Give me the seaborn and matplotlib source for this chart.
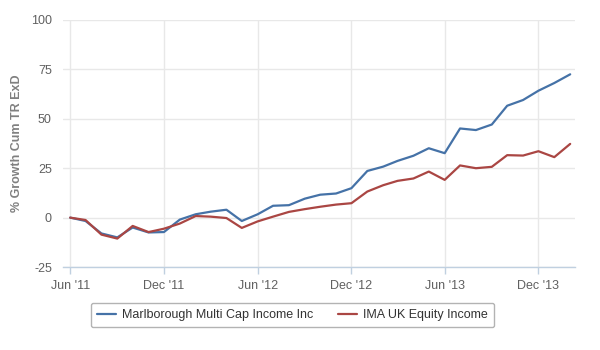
import matplotlib
matplotlib.use("Agg")
import matplotlib.pyplot as plt
import matplotlib.dates as mdates
from matplotlib.ticker import FixedLocator
import seaborn as sns
import pandas as pd

months = pd.date_range("2011-06-01", "2014-02-01", freq="MS")
fund_name = "Marlborough Multi Cap Income Inc"
sector_name = "IMA UK Equity Income"
fund = [0, -1.7, -8, -10, -5, -7.5, -7.3, -1, 1.7, 3, 4, -1.7, 1.7, 6, 6.3, 9.6,
        11.6, 12.2, 14.9, 23.6, 25.8, 28.7, 31.3, 35.1, 32.6, 45.1, 44.3, 47.1,
        56.6, 59.5, 64.2, 68.1, 72.5]
sector = [0, -1.2, -8.6, -10.6, -4.2, -7.3, -5.6, -3, 0.8, 0.5, -0.2, -5.2, -1.9, 0.5,
          2.9, 4.3, 5.5, 6.6, 7.3, 13.2, 16.4, 18.6, 19.8, 23.3, 19.1, 26.4, 25, 25.7,
          31.6, 31.4, 33.6, 30.6, 37.3]
yticks = [-25, 0, 25, 50, 75, 100]
xtick_dates = ["2011-06-01", "2011-12-01", "2012-06-01", "2012-12-01", "2013-06-01", "2013-12-01"]

df = pd.DataFrame({
    "date": list(months) * 2,
    "value": fund + sector,
    "series": [fund_name] * len(months) + [sector_name] * len(months),
})

sns.set_theme(style="white")
plt.rcParams["font.family"] = ["Liberation Sans", "DejaVu Sans"]
plt.rcParams["axes.unicode_minus"] = False

fig = plt.figure(figsize=(6, 3.5), dpi=100)
ax = fig.add_axes([0.105, 0.237, 0.853, 0.706])

sns.lineplot(data=df, x="date", y="value", hue="series",
             palette={fund_name: "#4572A7", sector_name: "#AA4643"},
             linewidth=1.6, ax=ax, legend=True)

ax.set_ylim(-25, 100)
ax.set_xlim(mdates.date2num(pd.Timestamp("2011-06-01")) - 14,
            mdates.date2num(pd.Timestamp("2014-02-01")) + 9)
ax.yaxis.set_major_locator(FixedLocator(yticks))
ax.xaxis.set_major_locator(FixedLocator([mdates.date2num(pd.Timestamp(d)) for d in xtick_dates]))
ax.xaxis.set_major_formatter(mdates.DateFormatter("%b '%y"))

ax.grid(True, color="#E8E8E8", linewidth=1)
ax.set_axisbelow(True)
for s in ["top", "right", "left"]:
    ax.spines[s].set_visible(False)
ax.spines["bottom"].set_color("#C0D0E0")
ax.spines["bottom"].set_linewidth(1)
ax.tick_params(axis="x", colors="#606060", labelsize=9, length=5, width=1, direction="out",
               bottom=True, pad=4)
ax.tick_params(axis="x", color="#C0D0E0")
ax.tick_params(axis="y", colors="#606060", labelsize=9, length=0, pad=8)
ax.set_xlabel("")
ax.set_ylabel("% Growth Cum TR ExD", color="#808080", fontsize=9, fontweight="bold", labelpad=6)

handles, labels = ax.get_legend_handles_labels()
leg = ax.legend(handles, labels, loc="center", bbox_to_anchor=(0.4875, 0.1),
                bbox_transform=fig.transFigure, ncol=2, frameon=True, fontsize=9,
                handlelength=1.5, handletextpad=0.5, columnspacing=2.0,
                borderpad=0.5, fancybox=True)
leg.get_frame().set_edgecolor("#A0A0A0")
leg.get_frame().set_linewidth(1)
for t in leg.get_texts():
    t.set_color("#333333")

fig.savefig("out.png", dpi=100, facecolor="white")
